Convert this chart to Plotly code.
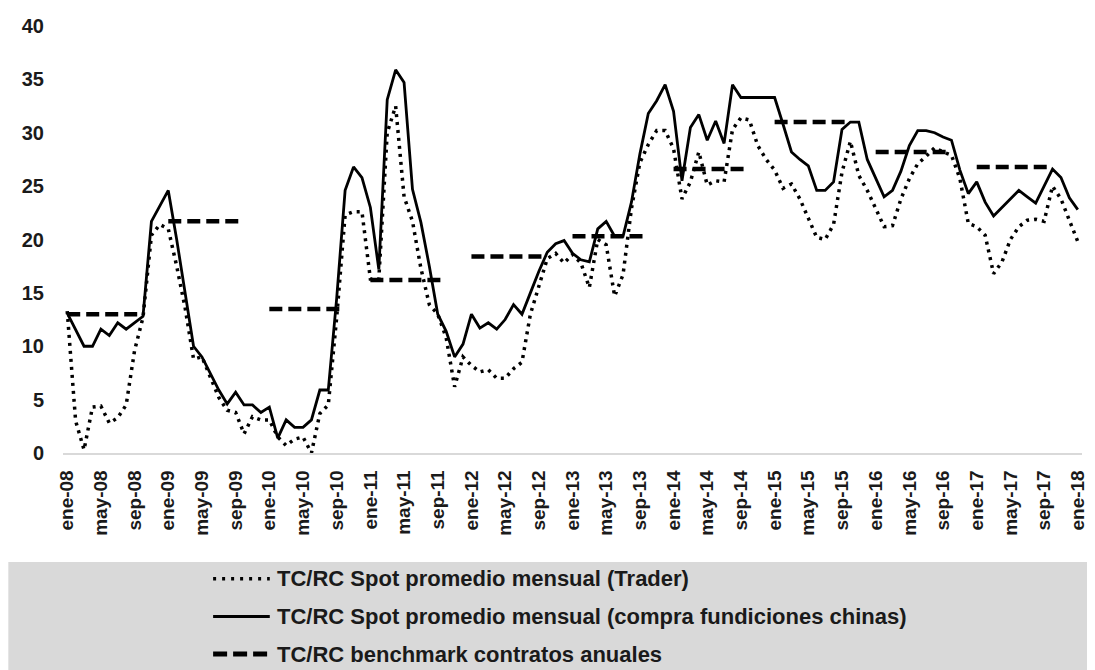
import plotly.graph_objects as go

# ---------------- data ----------------
month_abbr = ["ene", "feb", "mar", "abr", "may", "jun", "jul", "ago", "sep", "oct", "nov", "dic"]
years = list(range(2008, 2019))
categories = [f"{month_abbr[m]}-{str(y)[2:]}" for y in years for m in range(12)][:121]

trader = [13.3, 3.0, 0.3, 4.3, 4.4, 2.8, 3.3, 4.5, 9.6, 12.7, 20.4, 21.4,
          21.0, 17.5, 13.6, 8.8, 9.0, 7.1, 5.2, 4.0, 3.8, 1.8, 3.4, 3.1,
          3.1, 1.5, 0.7, 1.3, 1.5, 0.0, 3.7, 4.5, 12.7, 22.3, 22.6, 22.6,
          16.3, 16.3, 30.0, 32.5, 24.0, 21.7, 17.3, 13.9, 13.0, 10.8, 6.2, 9.0,
          8.2, 7.6, 7.8, 7.0, 7.0, 7.9, 8.5, 13.0, 15.6, 18.2, 18.7, 17.8,
          18.6, 17.8, 15.5, 20.0, 19.5, 14.7, 16.7, 22.9, 27.2, 28.9, 30.2, 30.2,
          28.5, 23.8, 25.4, 28.2, 25.1, 25.5, 25.4, 30.3, 31.4, 31.2, 28.8, 27.5,
          26.5, 24.8, 25.2, 23.8, 22.0, 20.2, 20.0, 21.4, 26.3, 29.2, 26.0, 24.6,
          22.9, 21.2, 21.3, 23.8, 25.7, 27.1, 27.8, 28.6, 28.2, 27.9, 25.7, 21.5,
          21.2, 20.4, 16.8, 17.9, 20.0, 21.2, 21.8, 21.9, 21.7, 25.0, 23.8, 21.7,
          19.8]

china = [13.1, 11.5, 10.0, 10.0, 11.6, 11.0, 12.2, 11.6, 12.2, 12.8, 21.7, 23.2,
         24.6, 20.0, 15.0, 10.0, 9.0, 7.4, 5.9, 4.6, 5.7, 4.5, 4.5, 3.8,
         4.3, 1.4, 3.1, 2.4, 2.4, 3.1, 5.9, 5.9, 14.5, 24.6, 26.8, 25.8,
         23.0, 17.2, 33.1, 35.9, 34.7, 24.7, 21.6, 17.5, 13.0, 11.4, 9.0, 10.2,
         13.0, 11.7, 12.2, 11.6, 12.5, 13.9, 13.0, 15.0, 17.0, 18.8, 19.6, 19.9,
         18.7, 18.1, 17.9, 21.0, 21.7, 20.3, 20.3, 23.5, 28.0, 31.8, 33.0, 34.5,
         32.0, 25.5, 30.5, 31.7, 29.3, 31.1, 29.0, 34.5, 33.3, 33.3, 33.3, 33.3,
         33.3, 30.8, 28.2, 27.5, 26.9, 24.6, 24.6, 25.4, 30.3, 31.0, 31.0, 27.5,
         25.8, 24.0, 24.6, 26.4, 28.8, 30.2, 30.2, 30.0, 29.6, 29.3, 26.5, 24.3,
         25.4, 23.5, 22.2, 23.0, 23.8, 24.6, 24.0, 23.4, 25.0, 26.6, 25.8, 23.9,
         22.8]

benchmark_years = [2008, 2009, 2010, 2011, 2012, 2013, 2014, 2015, 2016, 2017]
benchmark_values = [13.0, 21.7, 13.5, 16.2, 18.4, 20.3, 26.6, 31.0, 28.2, 26.8]
benchmark_months_shown = 10  # ene..oct of each year

tick_step = 4
legend_labels = ["TC/RC Spot promedio mensual (Trader)",
                 "TC/RC Spot promedio mensual (compra fundiciones chinas)",
                 "TC/RC benchmark contratos anuales"]

# ---------------- build ----------------
n = len(categories)
xs = list(range(n))
benchmark = [None] * n
for yr, val in zip(benchmark_years, benchmark_values):
    start = (yr - 2008) * 12
    for k in range(benchmark_months_shown):
        benchmark[start + k] = val

# page has an 8px body margin; figure coordinates below are page - 8
W, H = 1087, 662
L, R, T, B = 55, 1080, 14, 445
pw, ph = R - L, B - T

def px_x(p):
    return (p - L) / pw

def px_y(p):
    return (B - p) / ph

fig = go.Figure()
fig.add_trace(go.Scatter(x=xs, y=trader, mode="lines", name=legend_labels[0],
                         line=dict(color="black", width=3.5, dash="3px,5px")))
fig.add_trace(go.Scatter(x=xs, y=china, mode="lines", name=legend_labels[1],
                         line=dict(color="black", width=2.8)))
fig.add_trace(go.Scatter(x=xs, y=benchmark, mode="lines", name=legend_labels[2],
                         connectgaps=False,
                         line=dict(color="black", width=4.5, dash="13px,6px")))

tickvals = xs[::tick_step]
ticktext = [categories[i] for i in tickvals]

font_fam = "Liberation Sans, Arial, sans-serif"

fig.update_layout(
    width=W, height=H,
    margin=dict(l=L, r=W - R, t=T, b=H - B),
    paper_bgcolor="white", plot_bgcolor="white",
    showlegend=False,
    font=dict(family=font_fam, color="#1a1a1a"),
    xaxis=dict(range=[-0.5, n - 0.5], tickvals=tickvals, ticktext=ticktext,
               tickangle=-90, showgrid=False, zeroline=False,
               showline=True, linecolor="#d9d9d9", linewidth=1.5,
               ticks="", ticklabelstandoff=8,
               tickfont=dict(size=19, family=font_fam, color="#1a1a1a", weight="bold")),
    yaxis=dict(range=[0, 40], dtick=5, showgrid=False, zeroline=False,
               showline=False, ticks="", ticklabelstandoff=18,
               tickfont=dict(size=20, family=font_fam, color="#1a1a1a", weight="bold")),
)

# legend panel (gray box) + manual legend entries
shapes = [dict(type="rect", xref="paper", yref="paper",
               x0=px_x(0), x1=px_x(W + 2), y0=px_y(555), y1=px_y(H + 2),
               fillcolor="#d9d9d9", line=dict(width=0), layer="below")]
row_y = [572, 610, 648]
styles = [dict(color="black", width=3.5, dash="3px,6px"),
          dict(color="black", width=3),
          dict(color="black", width=5, dash="14px,6px")]
annotations = []
for lab, yy, st in zip(legend_labels, row_y, styles):
    shapes.append(dict(type="line", xref="paper", yref="paper",
                       x0=px_x(206), x1=px_x(263), y0=px_y(yy), y1=px_y(yy),
                       line=st))
    annotations.append(dict(xref="paper", yref="paper", x=px_x(268), y=px_y(yy),
                            xanchor="left", yanchor="middle", showarrow=False,
                            text=lab,
                            font=dict(size=22, family=font_fam, color="#1a1a1a", weight="bold")))
fig.update_layout(shapes=shapes, annotations=annotations)

fig.write_html("out.html")
